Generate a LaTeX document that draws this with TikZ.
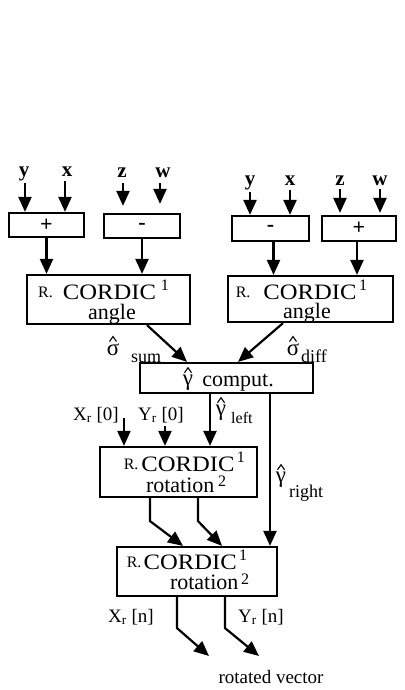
\documentclass[tikz,border=0pt]{standalone}
\usepackage{fontspec}
\setmainfont{Liberation Serif}
\newfontfamily\widefont[FakeStretch=1.12]{Liberation Serif}
\usetikzlibrary{arrows.meta,calc}
\newcommand\gkhat[1]{\draw[hatline] ($(#1.north)+(-3.5,-1.5)$) -- ++(3.5,-5) -- ++(3.5,5);}
\newcommand\rdot{{\fontsize{16}{16}\selectfont\raisebox{2pt}{R.}}}
\newcommand\sups[2]{{\fontsize{16}{16}\selectfont\raisebox{#1}{#2}}}
\begin{document}
\begin{tikzpicture}[x=1pt,y=-1pt,
  box/.style={draw,line width=2.2pt,inner sep=0pt},
  conn/.style={line width=2.2pt,-{Triangle[length=15pt,width=13pt]}},
  hatline/.style={line width=1.1pt,line join=miter},
  lbl/.style={inner sep=0pt,font=\fontsize{19}{20}\selectfont},
  gk/.style={inner sep=0pt,font=\fontsize{23}{23}\selectfont},
  inlbl/.style={inner sep=0pt,font=\bfseries\fontsize{21}{22}\selectfont},
  op/.style={box,font=\bfseries\fontsize{22}{22}\selectfont},
  txt/.style={inner sep=0pt,font=\fontsize{22}{22}\selectfont},
  sub/.style={inner sep=0pt,font=\fontsize{18}{18}\selectfont},
  small/.style={inner sep=0pt,font=\fontsize{16}{16}\selectfont}]
\useasboundingbox (0,0) rectangle (404,690);
% operand boxes
\node[op,minimum width=75pt,minimum height=24pt] (A) at (46.5,225) {+};
\node[op,minimum width=76pt,minimum height=24pt] (B) at (142,226) {-};
\node[op,minimum width=77pt,minimum height=25pt] (C) at (270.5,228.5) {-};
\node[op,minimum width=74pt,minimum height=25pt] (D) at (359,228.5) {+};
% input labels
\node[inlbl,anchor=base] (y1) at (24,176) {y};
\node[inlbl,anchor=base] (x1) at (67,176) {x};
\node[inlbl,anchor=base] (z1) at (122,177) {z};
\node[inlbl,anchor=base] (w1) at (163,177) {w};
\node[inlbl,anchor=base] (y2) at (250,185) {y};
\node[inlbl,anchor=base] (x2) at (290,185) {x};
\node[inlbl,anchor=base] (z2) at (340,185) {z};
\node[inlbl,anchor=base] (w2) at (380,185) {w};
\draw[conn] ([xshift=1pt,yshift=-2pt]y1.south) -- ([xshift=1pt]y1.south |- A.north);
\draw[conn] ([xshift=-2pt,yshift=-5pt]x1.south) -- ([xshift=-2pt]x1.south |- A.north);
\draw[conn,shorten >=7pt] ([xshift=1pt,yshift=-6pt]z1.south) -- ([xshift=1pt]z1.south |- B.north);
\draw[conn,shorten >=9pt] ([xshift=-3pt,yshift=-6pt]w1.south) -- ([xshift=-3pt]w1.south |- B.north);
\draw[conn] ([yshift=-2pt]y2.south) -- (y2.south |- C.north);
\draw[conn] ([yshift=-5pt]x2.south) -- (x2.south |- C.north);
\draw[conn,shorten >=2pt] ([yshift=-4pt]z2.south) -- (z2.south |- D.north);
\draw[conn,shorten >=2pt] ([yshift=-4pt]w2.south) -- (w2.south |- D.north);
% CORDIC angle boxes
\node[box,minimum width=163pt,minimum height=49pt] (E) at (108.5,299.5) {};
\node[box,minimum width=165pt,minimum height=46pt] (F) at (310.5,299) {};
\node[txt,anchor=base west] (Et1) at (38,299.5) {\rdot\hspace*{10pt}{\widefont CORDIC}\hspace*{5pt}\sups{9pt}{1}};
\node[txt,anchor=base] (Et2) at (112,319) {angle};
\node[txt,anchor=base west] (Ft1) at (235.6,299) {\rdot\hspace*{13pt}{\widefont CORDIC}\hspace*{2.5pt}\sups{9pt}{1}};
\node[txt,anchor=base] (Ft2) at (307,318) {angle};
\draw[conn] (A.south) -- (A.south |- E.north);
\draw[conn] (B.south) -- (B.south |- E.north);
\draw[conn] ([xshift=3pt]C.south) -- ([xshift=3pt]C.south |- F.north);
\draw[conn] ([xshift=-2pt]D.south) -- ([xshift=-2pt]D.south |- F.north);
% gamma computation
\node[box,minimum width=173pt,minimum height=30pt] (G) at (226.5,378) {};
\node[gk,anchor=base] (Gg) at (188,385) {γ};
\gkhat{Gg}
\node[txt,anchor=base] (Gc) at (238,386) {comput.};
\node[gk,anchor=base] (ssum) at (113,355) {σ};
\gkhat{ssum}
\node[sub,anchor=base west] (ssumt) at (131,362) {sum};
\node[gk,anchor=base] (sdiff) at (293,355) {σ};
\gkhat{sdiff}
\node[sub,anchor=base west] (sdifft) at (301,362) {diff};
\draw[conn] ([xshift=38.5pt]E.south) -- ([xshift=-39.5pt]G.north);
\draw[conn] ([xshift=-27.5pt]F.south) -- ([xshift=11.5pt]G.north);
% rotation 1
\node[box,minimum width=157pt,minimum height=50pt] (H) at (178.5,472) {};
\node[txt,anchor=base west] (Ht1) at (123.6,471) {\rdot\hspace*{3pt}{\widefont CORDIC}\hspace*{2.4pt}\sups{9pt}{1}};
\node[txt,anchor=base west] (Ht2) at (145.8,492) {rotation\hspace*{3.8pt}\sups{6pt}{2}};
\node[lbl,anchor=base west] (Xr0) at (73,420) {X\textsubscript{r} [0]};
\node[lbl,anchor=base west] (Yr0) at (138,420) {Y\textsubscript{r} [0]};
\node[gk,anchor=base] (gl) at (221,415) {γ};
\gkhat{gl}
\node[small,anchor=base west] (glt) at (231,423) {left};
\node[gk,anchor=base] (gr) at (281,482) {γ};
\gkhat{gr}
\node[sub,anchor=base west] (grt) at (289,497) {right};
\draw[conn] ([xshift=5pt,yshift=-3pt]Xr0.east) -- ([xshift=5pt]Xr0.east |- H.north);
\draw[conn] ([xshift=4pt,yshift=-3pt]Yr0.south) -- ([xshift=4pt]Yr0.south |- H.north);
\draw[conn] ([xshift=-16.5pt]G.south) -- ([xshift=-16.5pt]G.south |- H.north);
% rotation 2
\node[box,minimum width=160pt,minimum height=49pt] (I) at (197,571.5) {};
\node[txt,anchor=base west] (It1) at (126.6,569.5) {\rdot\hspace*{2.2pt}{\widefont CORDIC}\hspace*{2.4pt}\sups{9pt}{1}};
\node[txt,anchor=base west] (It2) at (169.8,589) {rotation\hspace*{2.8pt}\sups{5pt}{2}};
\draw[conn] ([xshift=43.5pt]G.south) -- ([xshift=43.5pt]G.south |- I.north);
\draw[conn] ([xshift=-28.5pt]H.south) -- ++(0,23) -- ([xshift=-14pt]I.north);
\draw[conn] ([xshift=19.5pt]H.south) -- ++(0,23) -- ([xshift=25pt]I.north);
% outputs
\node[lbl,anchor=base west] (Xrn) at (108,622) {X\textsubscript{r} [n]};
\node[lbl,anchor=base west] (Yrn) at (238,622) {Y\textsubscript{r} [n]};
\node[lbl,anchor=base] (rv) at (271,683) {rotated vector};
\coordinate (o1) at (209,656);
\coordinate (o2) at (259,656);
\draw[conn] ([xshift=-20pt]I.south) -- ++(0,31) -- (o1);
\draw[conn] ([xshift=28pt]I.south) -- ++(0,31) -- (o2);
\end{tikzpicture}
\end{document}
